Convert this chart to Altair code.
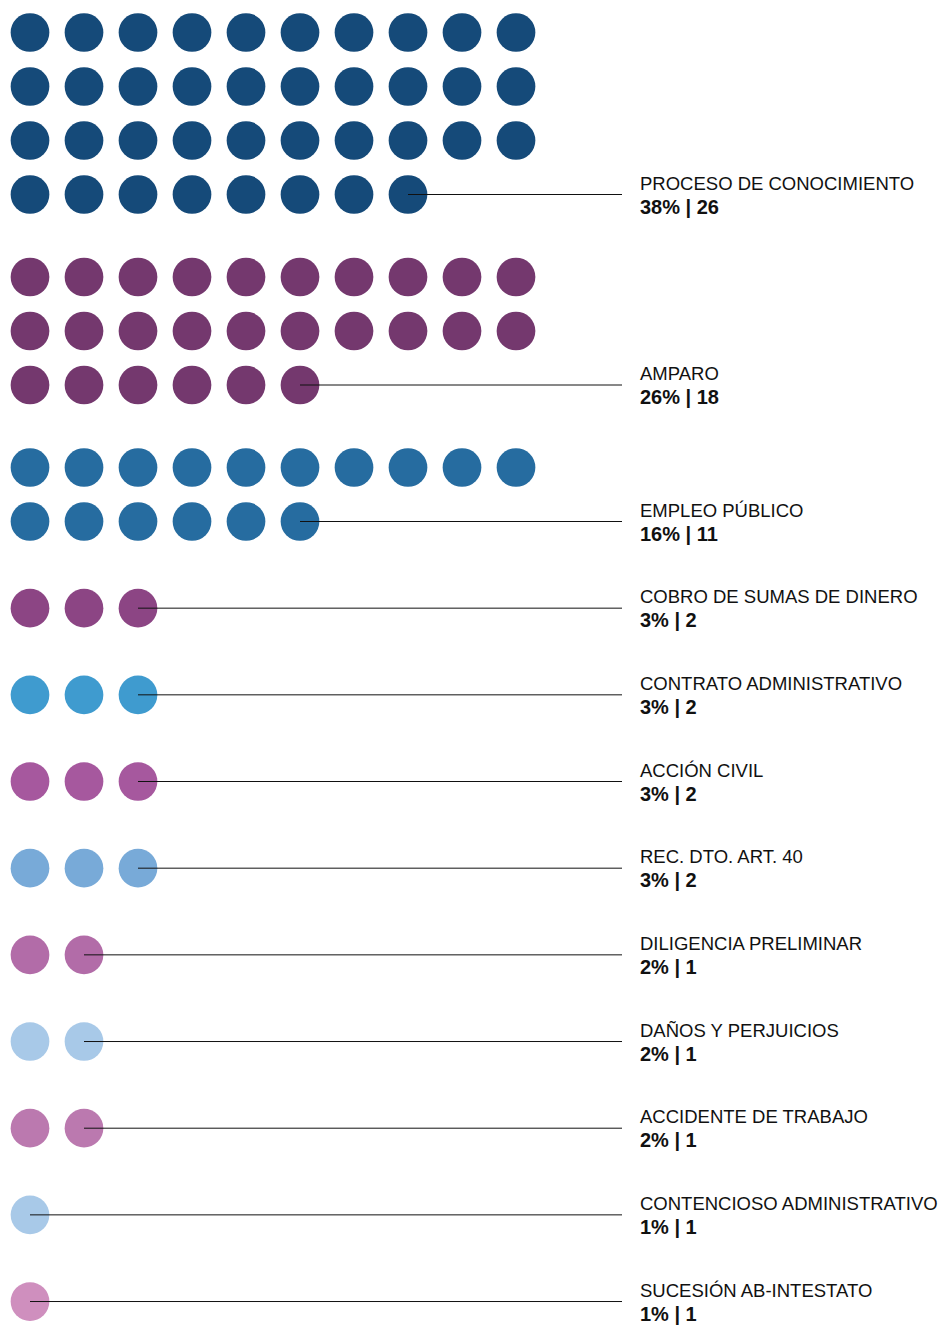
import altair as alt
import pandas as pd

# ---- data ----
categories = [
    "PROCESO DE CONOCIMIENTO", "AMPARO", "EMPLEO PÚBLICO",
    "COBRO DE SUMAS DE DINERO", "CONTRATO ADMINISTRATIVO", "ACCIÓN CIVIL",
    "REC. DTO. ART. 40", "DILIGENCIA PRELIMINAR", "DAÑOS Y PERJUICIOS",
    "ACCIDENTE DE TRABAJO", "CONTENCIOSO ADMINISTRATIVO", "SUCESIÓN AB-INTESTATO",
]
percentages = [38, 26, 16, 3, 3, 3, 3, 2, 2, 2, 1, 1]
counts = [26, 18, 11, 2, 2, 2, 2, 1, 1, 1, 1, 1]
colors = [
    "#154a79", "#74386e", "#266ca0", "#8c4584", "#3f9bcf", "#a6589e",
    "#78aad8", "#b26ca8", "#a8c9e8", "#bb79af", "#a8c9e8", "#cf8fbe",
]

# ---- layout constants ----
W, H = 935, 1318
PER_ROW = 10
X0, STEP = 22, 54
Y0 = 24.5
GAP_MULTI, GAP_SINGLE = 28.5, 32.67
LINE_END = 614
LABEL_X = 632
FONT = "Liberation Sans"
FS = 18.5
FS_VALUE = 20
DOT_SIZE = 1498  # square-bound area -> ~38.7px diameter

dots, lines = [], []
y_start = Y0
prev_last = Y0
for i, (cat, pct) in enumerate(zip(categories, percentages)):
    nrows = (pct + PER_ROW - 1) // PER_ROW
    if i > 0:
        y_start = prev_last + STEP + (GAP_MULTI if nrows > 1 else GAP_SINGLE)
    for k in range(pct):
        dots.append({"cat": cat, "x": X0 + (k % PER_ROW) * STEP,
                     "y": y_start + (k // PER_ROW) * STEP})
    last = dots[-1]
    prev_last = last["y"]
    lines.append({"cat": cat, "x": last["x"], "x2": LINE_END, "y": last["y"],
                  "lx": LABEL_X,
                  "value": f"{pct}% | {counts[i]}"})

dots_df = pd.DataFrame(dots)
lines_df = pd.DataFrame(lines)

xs = alt.Scale(domain=[0, W], range=[0, W], zero=False, nice=False)
ys = alt.Scale(domain=[0, H], range=[0, H], zero=False, nice=False)

points = alt.Chart(dots_df).mark_point(
    filled=True, shape="circle", size=DOT_SIZE, opacity=1, strokeWidth=0
).encode(
    x=alt.X("x:Q", scale=xs, axis=None),
    y=alt.Y("y:Q", scale=ys, axis=None),
    color=alt.Color("cat:N", scale=alt.Scale(domain=categories, range=colors), legend=None),
)

rules = alt.Chart(lines_df).mark_rule(color="#111111", strokeWidth=1).encode(
    x=alt.X("x:Q", scale=xs, axis=None),
    x2="x2:Q",
    y=alt.Y("y:Q", scale=ys, axis=None),
)

names = alt.Chart(lines_df).mark_text(
    align="left", baseline="alphabetic", dy=-5, font=FONT, fontSize=FS, color="#111111"
).encode(
    x=alt.X("lx:Q", scale=xs, axis=None),
    y=alt.Y("y:Q", scale=ys, axis=None),
    text="cat:N",
)

values = alt.Chart(lines_df).mark_text(
    align="left", baseline="alphabetic", dy=19, font=FONT, fontSize=FS_VALUE,
    fontWeight="bold", color="#111111"
).encode(
    x=alt.X("lx:Q", scale=xs, axis=None),
    y=alt.Y("y:Q", scale=ys, axis=None),
    text="value:N",
)

chart = alt.layer(points, rules, names, values).properties(
    width=W, height=H, padding=0, autosize=alt.AutoSizeParams(type="none"),
    background="white",
).configure_view(stroke=None)

chart.save("out.html", embed_options={"renderer": "svg", "actions": False})
